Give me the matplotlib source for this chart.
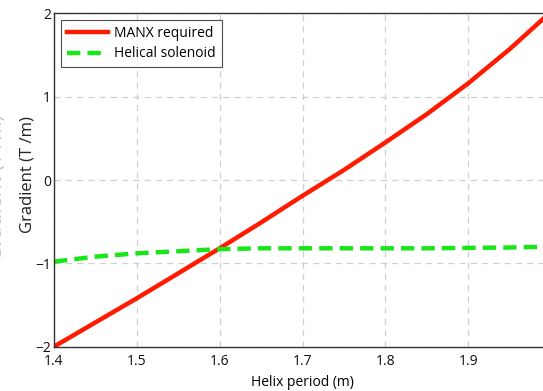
import matplotlib
matplotlib.use("Agg")
import matplotlib.pyplot as plt

# helix period (m)
period = [1.40, 1.45, 1.50, 1.55, 1.60, 1.65, 1.70, 1.75, 1.80, 1.85, 1.90, 1.95, 2.00]
# gradient needed by MANX (T/m)
manx = [-2.00, -1.71, -1.42, -1.12, -0.82, -0.51, -0.19, 0.12, 0.45, 0.79, 1.16, 1.57, 2.02]
# gradient of the helical solenoid (T/m)
solenoid = [-0.98, -0.92, -0.88, -0.855, -0.83, -0.82, -0.82, -0.82, -0.82, -0.82, -0.815, -0.81, -0.80]

plt.rcParams['font.family'] = ['Open Sans', 'DejaVu Sans']

fig = plt.figure(figsize=(5.43, 3.91), dpi=100)
# the right edge of the axes lies just past the picture, as in the original crop
ax = fig.add_axes([54 / 543, 44.4 / 391, 497 / 543, 333.2 / 391])

ax.plot(period, manx, color='#ff1a00', lw=3.2, label='MANX required')
ax.plot(period, solenoid, color='#19e619', lw=3.2, ls=(0, (3, 1.6)), label='Helical solenoid')

ax.set_xlim(1.4, 2.0)
ax.set_ylim(-2, 2)
ax.set_xticks([1.4, 1.5, 1.6, 1.7, 1.8, 1.9])
ax.set_yticks([-2, -1, 0, 1, 2])
ax.set_yticklabels(['\u22122', '\u22121', '0', '1', '2'])
ax.grid(True, color='#d0d0d0', ls=(0, (5, 4)), lw=0.9)
ax.tick_params(length=0, labelsize=10, colors='#111111')
ax.tick_params(axis='x', pad=5)
ax.tick_params(axis='y', pad=2)
for s in ax.spines.values():
    s.set_color('#333333')
    s.set_linewidth(1.0)

ax.set_xlabel('Helix period (m)', fontsize=10, labelpad=5)
ax.set_ylabel('Gradient (T /m)', fontsize=12, color='#222222')
ax.yaxis.set_label_coords(-18 / 497, 0.515)

# faint ghost of the axis label at the left edge
fig.text(-3 / 543, 0.52, 'Gradient (T /m)', rotation=90, fontsize=15,
         color='#c4c4c4', ha='center', va='center')

leg = ax.legend(loc='upper left', fontsize=10, frameon=True, fancybox=False,
                edgecolor='#222222', handlelength=3.0, handletextpad=0.45,
                borderpad=0.4, labelspacing=0.4, borderaxespad=0.5)
leg.get_frame().set_linewidth(0.8)

fig.savefig('out.png', dpi=100)
